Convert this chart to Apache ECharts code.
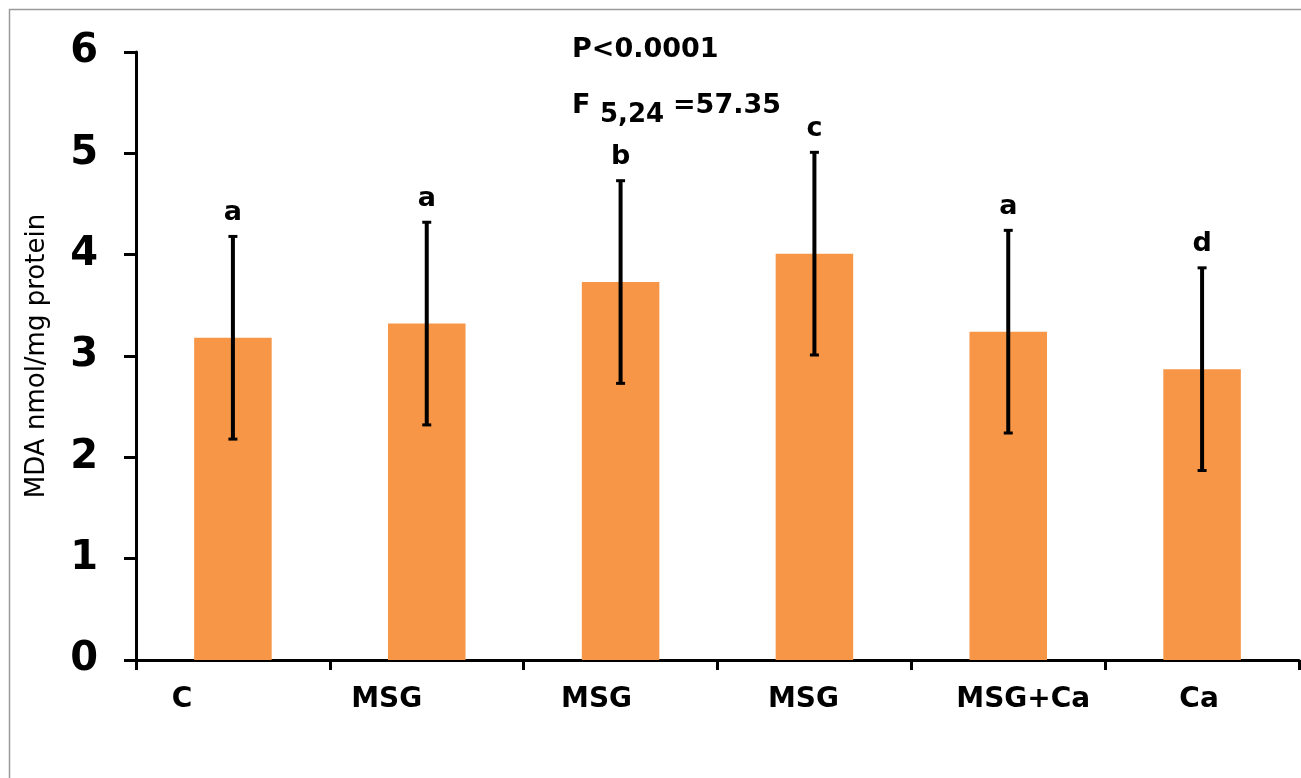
<!DOCTYPE html>
<html>
<head>
<meta charset="utf-8">
<script src="https://cdn.jsdelivr.net/npm/echarts@6/dist/echarts.min.js"></script>
<style>
html,body{margin:0;padding:0;background:#fff;}
#chart{width:1301px;height:778px;}
</style>
</head>
<body>
<div id="chart"></div>
<script>
// ---- data ----
var categories = ['C', 'MSG', 'MSG', 'MSG', 'MSG+Ca', 'Ca'];
var means = [3.18, 3.32, 3.73, 4.01, 3.24, 2.87];
var errors = [1.0, 1.0, 1.0, 1.0, 1.0, 1.0];
var letters = ['a', 'a', 'b', 'c', 'a', 'd'];
var yTicks = [0, 1, 2, 3, 4, 5, 6];
var statLine1 = 'P<0.0001';
var statF = 'F';
var statSub = '5,24';
var statVal = '=57.35';

// ---- styles (label horizontal shifts, px) ----
var labelShift = [-51, -40, -24, -11, 15, -3];
var rich = {};
labelShift.forEach(function (s, i) {
  rich['s' + i] = {
    fontFamily: 'DejaVu Sans', fontWeight: 'bold', fontSize: 28, color: '#000',
    padding: s < 0 ? [0, -2 * s, 0, 0] : [0, 0, 0, 2 * s]
  };
});

var chart = echarts.init(document.getElementById('chart'));
var errData = means.map(function (m, i) { return [i, m - errors[i], m + errors[i], letters[i]]; });

chart.setOption({
  animation: false,
  backgroundColor: '#fff',
  grid: { left: 136, right: 2, top: 52, bottom: 118, containLabel: false },
  xAxis: {
    type: 'category',
    data: categories,
    axisLine: { lineStyle: { color: '#000', width: 3 } },
    axisTick: { show: true, length: 10, lineStyle: { color: '#000', width: 3 } },
    axisLabel: {
      margin: 26,
      interval: 0,
      formatter: function (v, i) { return '{s' + i + '|' + v + '}'; },
      rich: rich
    },
    splitLine: { show: false }
  },
  yAxis: {
    type: 'value',
    min: yTicks[0],
    max: yTicks[yTicks.length - 1],
    interval: 1,
    name: 'MDA nmol/mg protein',
    nameLocation: 'middle',
    nameGap: 86,
    nameRotate: 90,
    nameTextStyle: { fontFamily: 'DejaVu Sans', fontSize: 26, color: '#000' },
    axisLine: { show: true, lineStyle: { color: '#000', width: 3 } },
    axisTick: { show: true, length: 12, lineStyle: { color: '#000', width: 3 } },
    axisLabel: {
      margin: 38,
      fontFamily: 'DejaVu Sans', fontWeight: 'bold', fontSize: 40, color: '#000'
    },
    splitLine: { show: false }
  },
  series: [
    {
      type: 'bar',
      data: means,
      barWidth: '40%',
      itemStyle: { color: '#F79646' }
    },
    {
      type: 'custom',
      data: errData,
      z: 10,
      renderItem: function (params, api) {
        var x = api.value(0);
        var lo = api.coord([x, api.value(1)]);
        var hi = api.coord([x, api.value(2)]);
        var cx = lo[0];
        var cap = 4.5;
        var st = { stroke: '#000', lineWidth: 4 };
        return {
          type: 'group',
          children: [
            { type: 'line', shape: { x1: cx, y1: lo[1], x2: cx, y2: hi[1] }, style: st },
            { type: 'line', shape: { x1: cx - cap, y1: hi[1], x2: cx + cap, y2: hi[1] }, style: { stroke: '#000', lineWidth: 3 } },
            { type: 'line', shape: { x1: cx - cap, y1: lo[1], x2: cx + cap, y2: lo[1] }, style: { stroke: '#000', lineWidth: 3 } },
            {
              type: 'text',
              style: {
                x: cx, y: hi[1] - 10,
                text: api.value(3),
                fontFamily: 'DejaVu Sans', fontWeight: 'bold', fontSize: 27,
                fill: '#000', align: 'center', verticalAlign: 'bottom'
              }
            }
          ]
        };
      }
    }
  ],
  graphic: [
    { type: 'rect', shape: { x: 9.5, y: 9.5, width: 1400, height: 900 }, style: { fill: 'none', stroke: '#9a9a9a', lineWidth: 1.5 }, silent: true },
    { type: 'text', left: 572, top: 36, style: { text: statLine1, fontFamily: 'DejaVu Sans', fontWeight: 'bold', fontSize: 27, fill: '#000' } },
    { type: 'text', left: 572, top: 92, style: { text: statF, fontFamily: 'DejaVu Sans', fontWeight: 'bold', fontSize: 27, fill: '#000' } },
    { type: 'text', left: 600, top: 102, style: { text: statSub, fontFamily: 'DejaVu Sans', fontWeight: 'bold', fontSize: 26, fill: '#000' } },
    { type: 'text', left: 673, top: 92, style: { text: statVal, fontFamily: 'DejaVu Sans', fontWeight: 'bold', fontSize: 27, fill: '#000' } }
  ]
});
</script>
</body>
</html>
